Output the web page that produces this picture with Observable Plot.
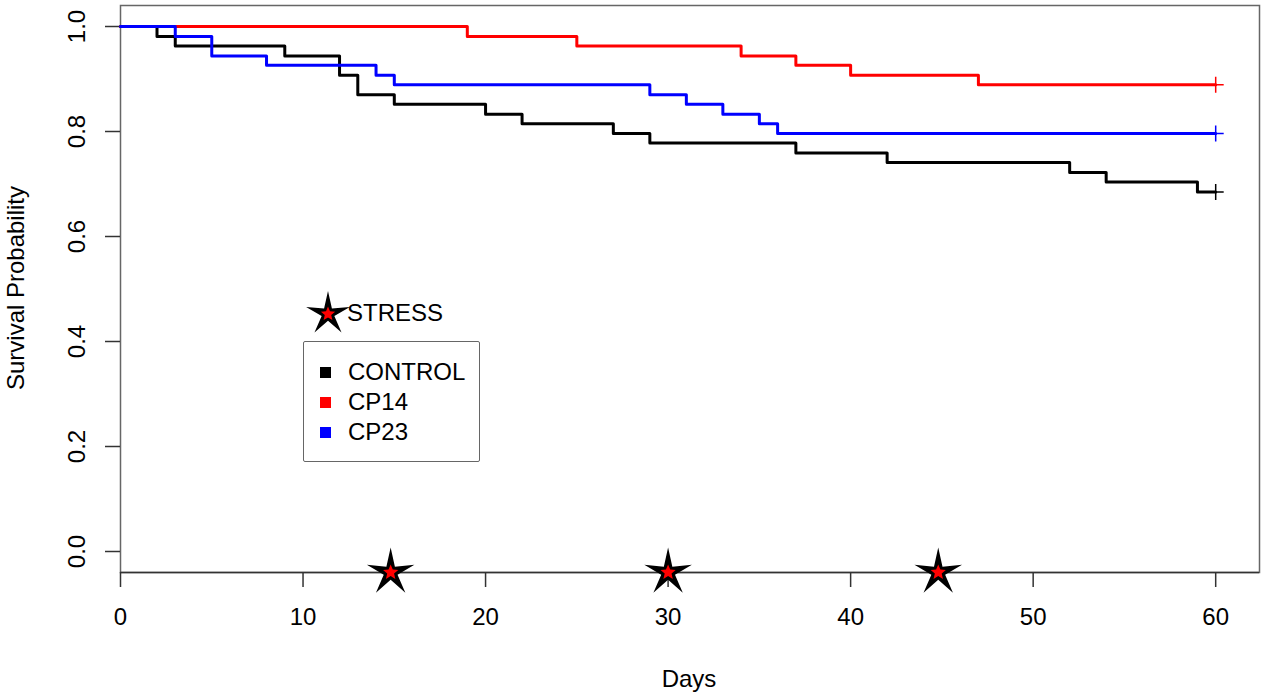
<!DOCTYPE html>
<html>
<head>
<meta charset="utf-8">
<script src="https://cdn.jsdelivr.net/npm/d3@7"></script>
<script src="https://cdn.jsdelivr.net/npm/@observablehq/plot@0.6"></script>
<style>
  html, body { margin: 0; padding: 0; background: #fff; }
  #wrap { position: relative; width: 1267px; height: 699px; font-family: "Liberation Sans", Arial, Helvetica, sans-serif; color: #000; }
  #wrap svg { position: absolute; left: 0; top: 0; }
  .lbl { position: absolute; font-size: 24px; white-space: nowrap; }
  #legend { position: absolute; left: 303px; top: 341px; width: 177px; height: 121px; border: 1.5px solid #666; box-sizing: border-box; border-radius: 2px; }
  .row { position: absolute; left: 0; height: 30px; line-height: 30px; font-size: 24px; }
  .sq { position: absolute; left: 16px; top: 10px; width: 11px; height: 11px; }
  .row span.t { position: absolute; left: 44px; }
</style>
</head>
<body>
<div id="wrap"></div>
<script>
// ---- data ----
const groups = ["CONTROL", "CP14", "CP23"];
const colors = ["#000000", "#ff0000", "#0000ff"];

const controlDays = [0, 2, 3, 9, 12, 13, 15, 20, 22, 27, 29, 37, 42, 52, 54, 59, 60];
const controlSurv = [1, 0.981, 0.963, 0.944, 0.907, 0.870, 0.852, 0.833, 0.815, 0.796, 0.778, 0.759, 0.741, 0.722, 0.704, 0.685, 0.685];

const cp14Days = [0, 19, 25, 34, 37, 40, 47, 60];
const cp14Surv = [1, 0.981, 0.963, 0.944, 0.926, 0.907, 0.889, 0.889];

const cp23Days = [0, 3, 5, 8, 14, 15, 29, 31, 33, 35, 36, 60];
const cp23Surv = [1, 0.981, 0.944, 0.926, 0.907, 0.889, 0.870, 0.852, 0.833, 0.815, 0.796, 0.796];

const stressDays = [14.8, 30, 44.8];

const xTicks = [0, 10, 20, 30, 40, 50, 60];
const yTicks = [0, 0.2, 0.4, 0.6, 0.8, 1.0];

// ---- build table ----
const seriesDays = [controlDays, cp14Days, cp23Days];
const seriesSurv = [controlSurv, cp14Surv, cp23Surv];
const rows = [];
const lastRows = [];
groups.forEach((g, i) => {
  seriesDays[i].forEach((t, j) => rows.push({group: g, t, s: seriesSurv[i][j]}));
  const n = seriesDays[i].length - 1;
  lastRows.push({group: g, t: seriesDays[i][n], s: seriesSurv[i][n]});
});

// custom symbols
function starSymbol(ratio) {
  return {
    draw(context, size) {
      const R = Math.sqrt(size / Math.PI);
      const r = R * ratio;
      for (let k = 0; k < 10; k++) {
        const a = -Math.PI / 2 + k * Math.PI / 5;
        const rad = k % 2 === 0 ? R : r;
        const px = rad * Math.cos(a), py = rad * Math.sin(a);
        if (k === 0) context.moveTo(px, py); else context.lineTo(px, py);
      }
      context.closePath();
    }
  };
}
const plusSymbol = {
  draw(context, size) {
    const R = Math.sqrt(size / Math.PI);
    context.moveTo(-R, 0); context.lineTo(R, 0);
    context.moveTo(0, -R); context.lineTo(0, R);
  }
};

const chart = Plot.plot({
  width: 1267,
  height: 699,
  marginLeft: 120,
  marginRight: 8,
  marginTop: 5,
  marginBottom: 127,
  style: {fontFamily: "'Liberation Sans', Arial, sans-serif", background: "transparent"},
  x: {domain: [0, 62.4]},
  y: {domain: [-0.04, 1.04]},
  color: {domain: groups, range: colors},
  marks: [
    Plot.frame({stroke: "#666", strokeWidth: 1.5}),
    Plot.axisX({ticks: xTicks, tickSize: 15, tickPadding: 20, fontSize: 24, label: null, stroke: "#333", strokeWidth: 1.5, color: "#000"}),
    Plot.axisY({ticks: yTicks, tickSize: 15, tickFormat: d3.format(".1f"), text: null, label: null, stroke: "#333", strokeWidth: 1.5}),
    Plot.text(yTicks, {y: d => d, text: d3.format(".1f"), frameAnchor: "left", dx: -43, rotate: -90, fontSize: 24, textAnchor: "middle", lineAnchor: "middle", fill: "#000"}),
    Plot.ruleY([-0.04], {stroke: "#333", strokeWidth: 1.5}),
    Plot.line(rows, {x: "t", y: "s", z: "group", stroke: "group", curve: "step-after", strokeWidth: 3}),
    Plot.dot(lastRows, {x: "t", y: "s", stroke: "group", fill: "none", symbol: plusSymbol, r: 8, strokeWidth: 1.5}),
    Plot.dot(stressDays, {x: d => d, frameAnchor: "bottom", symbol: starSymbol(0.29), r: 25, fill: "#000", stroke: "none"}),
    Plot.dot(stressDays, {x: d => d, frameAnchor: "bottom", symbol: starSymbol(0.45), r: 8, fill: "#ff0000", stroke: "none"})
  ]
});

const wrap = document.getElementById("wrap");
wrap.appendChild(chart);

// axis titles
const xl = document.createElement("div");
xl.className = "lbl";
xl.textContent = "Days";
xl.style.left = "689px"; xl.style.top = "679px";
xl.style.transform = "translate(-50%, -50%)";
wrap.appendChild(xl);

const yl = document.createElement("div");
yl.className = "lbl";
yl.textContent = "Survival Probability";
yl.style.left = "16px"; yl.style.top = "288px";
yl.style.transform = "translate(-50%, -50%) rotate(-90deg)";
wrap.appendChild(yl);

// STRESS legend entry
const starNS = "http://www.w3.org/2000/svg";
function starPath(cx, cy, R, ratio) {
  let d = "";
  for (let k = 0; k < 10; k++) {
    const a = -Math.PI / 2 + k * Math.PI / 5;
    const rad = k % 2 === 0 ? R : R * ratio;
    d += (k === 0 ? "M" : "L") + (cx + rad * Math.cos(a)).toFixed(2) + "," + (cy + rad * Math.sin(a)).toFixed(2);
  }
  return d + "Z";
}
const sv = document.createElementNS(starNS, "svg");
sv.setAttribute("width", "60"); sv.setAttribute("height", "60");
sv.style.position = "absolute"; sv.style.left = "298px"; sv.style.top = "283px";
const p1 = document.createElementNS(starNS, "path");
p1.setAttribute("d", starPath(30, 31, 23, 0.29)); p1.setAttribute("fill", "#000");
const p2 = document.createElementNS(starNS, "path");
p2.setAttribute("d", starPath(30, 31, 7.5, 0.45)); p2.setAttribute("fill", "#ff0000");
sv.appendChild(p1); sv.appendChild(p2);
wrap.appendChild(sv);

const st = document.createElement("div");
st.className = "lbl";
st.textContent = "STRESS";
st.style.left = "347px"; st.style.top = "313px";
st.style.transform = "translate(0, -50%)";
wrap.appendChild(st);

// group legend
const leg = document.createElement("div");
leg.id = "legend";
groups.forEach((g, i) => {
  const r = document.createElement("div");
  r.className = "row";
  r.style.top = (15 + i * 30) + "px";
  r.innerHTML = `<div class="sq" style="background:${colors[i]}"></div><span class="t">${g}</span>`;
  leg.appendChild(r);
});
wrap.appendChild(leg);
</script>
</body>
</html>
